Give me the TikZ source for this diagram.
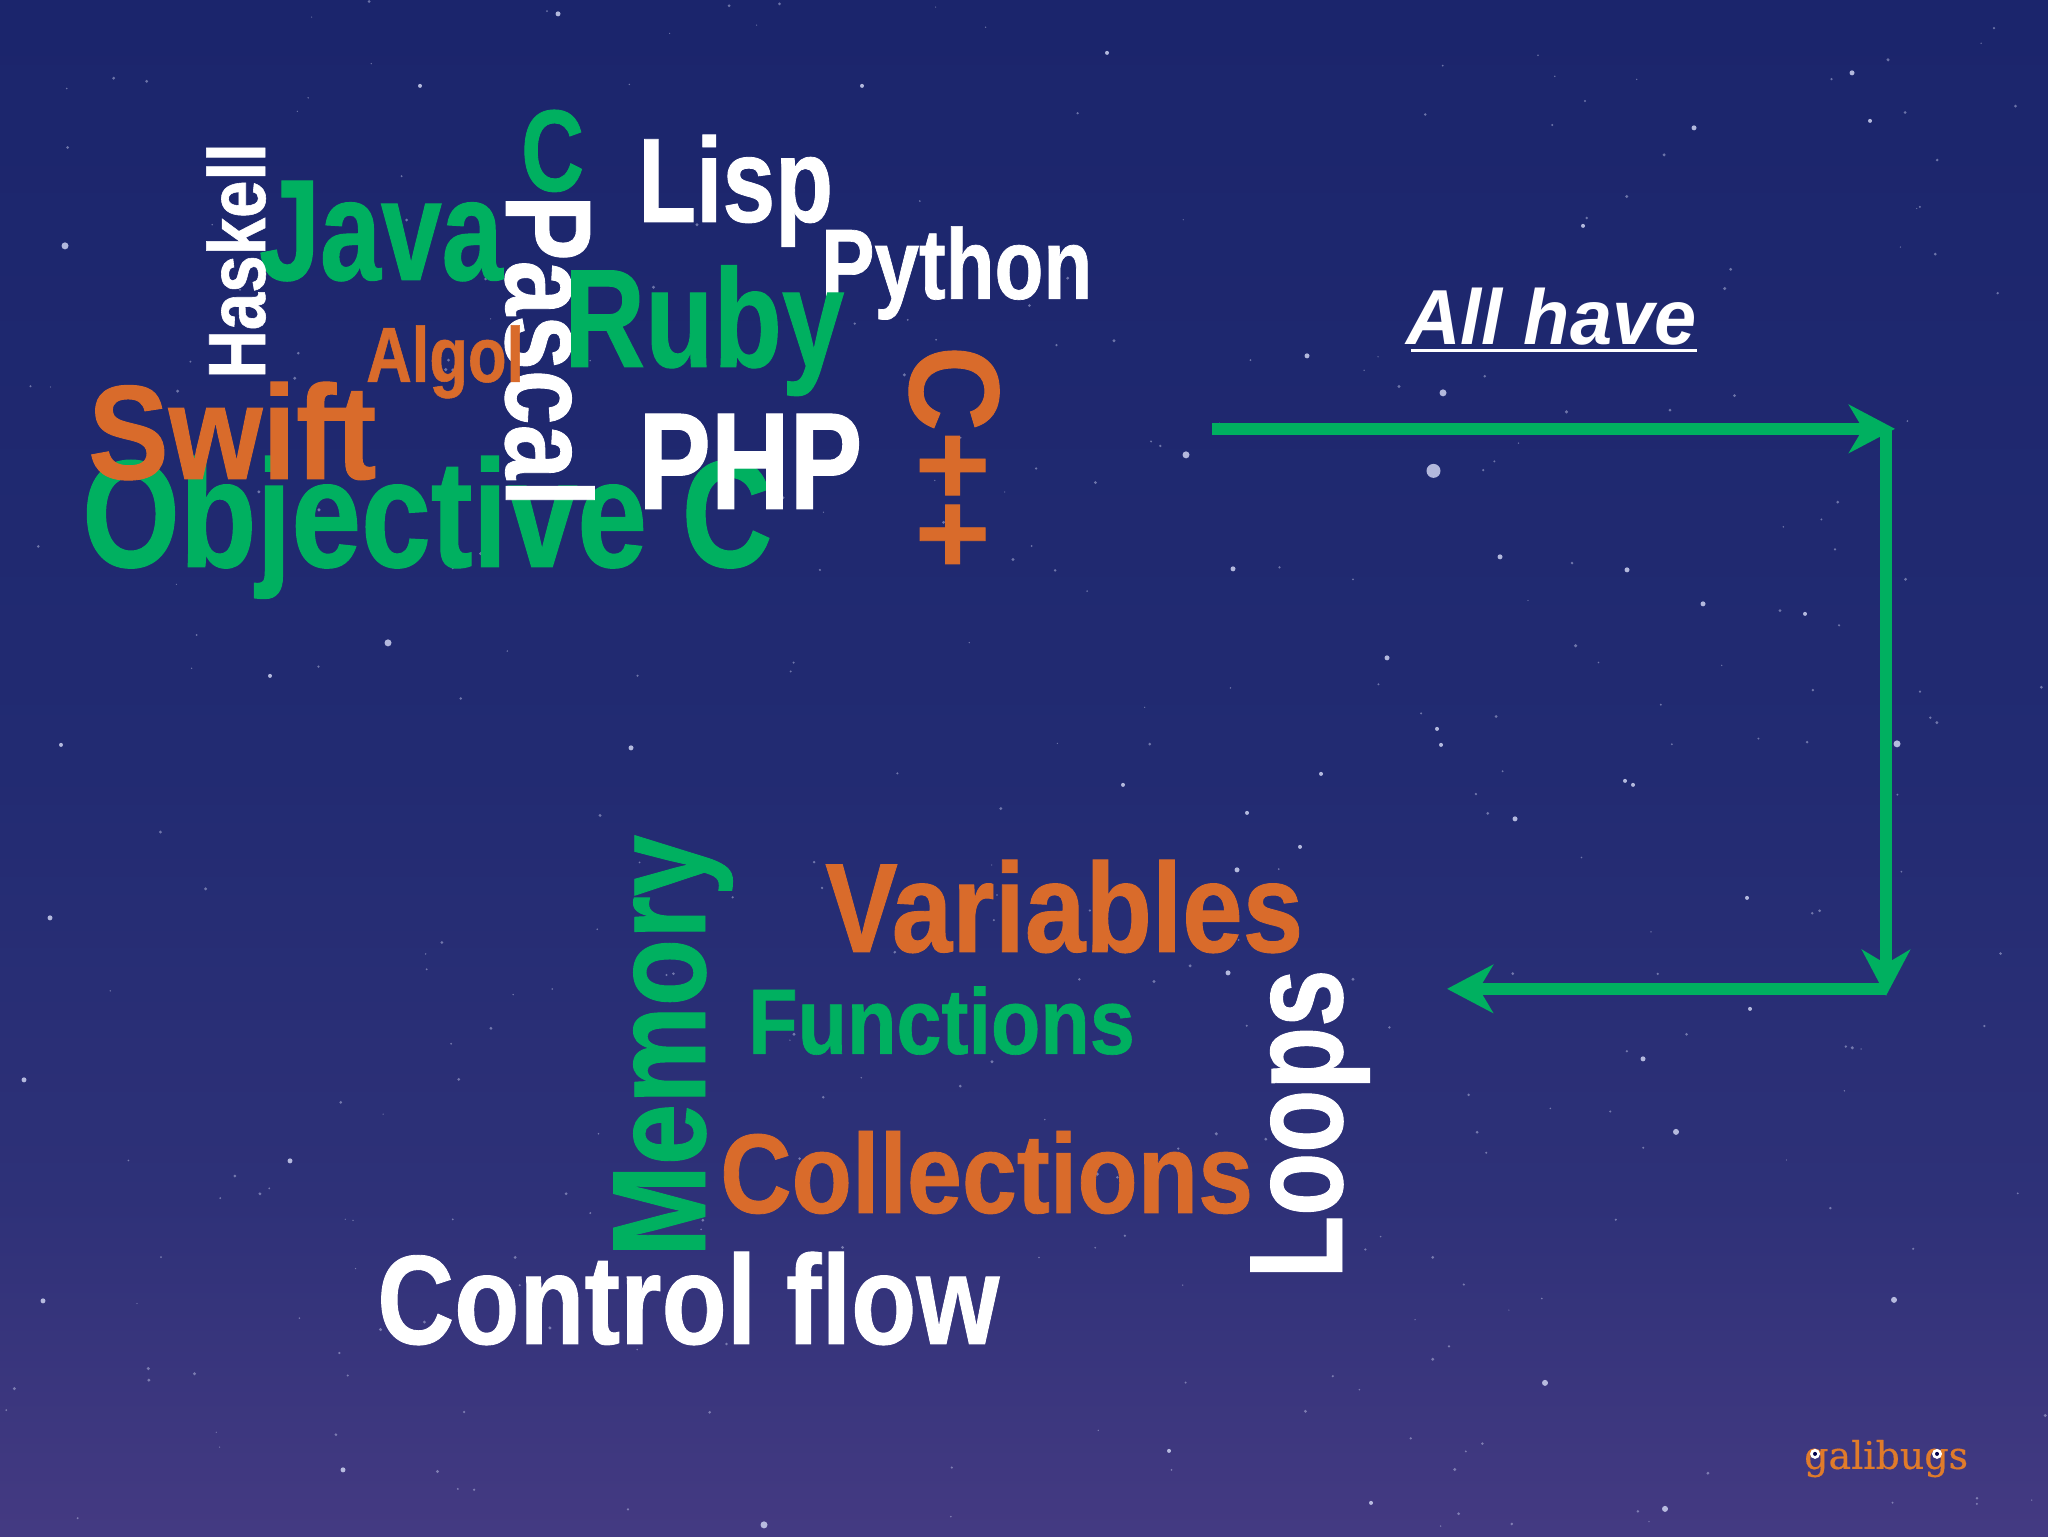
\documentclass[tikz,border=0pt]{standalone}
\usepackage{fontspec}
\usepackage{tikz}
\usetikzlibrary{arrows.meta}

\definecolor{wordgreen}{RGB}{0,176,96}
\definecolor{wordorange}{RGB}{217,107,43}
\definecolor{skytop}{RGB}{27,37,108}
\definecolor{skymid}{RGB}{34,43,114}
\definecolor{skylow}{RGB}{46,49,120}
\definecolor{skybottom}{RGB}{68,58,130}
\definecolor{stardot}{RGB}{205,210,240}
\definecolor{logoorange}{RGB}{224,123,42}

\pgfdeclareverticalshading{skyfade}{100bp}{color(0bp)=(skybottom); color(25bp)=(skybottom); color(36bp)=(skylow); color(50bp)=(skymid); color(75bp)=(skytop); color(100bp)=(skytop)}

\tikzset{
	word/.style 2 args={inner sep=0pt, anchor=base west, font={\fontspec[FakeStretch=#2,BoldFeatures={FakeBold=0.7}]{Liberation Sans}\bfseries\fontsize{#1}{#1}\selectfont}},
	greenword/.style={text=wordgreen},
	orangeword/.style={text=wordorange},
	whiteword/.style={text=white},
	bentarrow/.style={draw=wordgreen, line width=12pt, -{Stealth[length=46pt,width=48pt,inset=14pt]}},
	star/.style={fill=stardot, opacity=0.85},
}

\begin{document}
\begin{tikzpicture}[x=1pt,y=-1pt]
	\pgfmathsetseed{4711}
	\shade[shading=skyfade] (0,0) rectangle (2048,1536);

	% faint dots
	\foreach \i in {1,...,320} {
		\pgfmathsetmacro{\sx}{rnd*2048}
		\pgfmathsetmacro{\sy}{rnd*1536}
		\pgfmathsetmacro{\sr}{0.6+rnd*1.1}
		\fill[star, opacity=0.45] (\sx,\sy) circle (\sr);
	}
	% brighter dots
	\foreach \sx/\sy/\sr in {1433.5/470/7, 1443/392/3.5, 1186/454/3.5, 1307/355/2.5, 1500/556/2.5, 1897/743/3.5, 1515/818/2.5, 1387/657/2.5, 1703/603/2.5, 1233/568/2.5, 1627/569/2.5, 1805/613/2, 1437/728/2, 1441/744/2, 1625/780/2, 1247/812/2, 1321/773/2, 1237/869/2.5, 1228/972/2.5, 1747/897/2, 1750/1008/2, 1300/846/2, 65/245/3.5, 388/642/3.5, 764/1524/3.5, 1676/1131/3, 1894/1299/3, 1545/1382/3, 1665/1508/3, 50/917/2.5, 24/1079/2.5, 43/1300/2.5, 343/1469/2.5, 290/1160/2.5, 61/744/2, 270/675/2, 558/13/2.5, 420/85/2, 1107/52/2, 862/85/2, 1694/127/2.5, 1870/120/2, 1852/72/2.5, 1583/225/2, 1643/1058/2.5, 1371/1502/2, 631/747/2.5, 1123/784/2, 1169/1450/2, 1633/784/2}
		\fill[star] (\sx,\sy) circle (\sr);

	% upper group
	\node[word={144}{0.76}, greenword] (java) at (259,279) {Java};
	\node[word={81}{0.83}, whiteword, rotate=90] (haskell) at (265,378) {Haskell};
	\node[word={116}{0.75}, greenword] (c) at (521,190) {C};
	\node[word={153}{0.82}, greenword] (objc) at (82,566) {Objective C};
	\node[word={122}{0.806}, whiteword, rotate=-90] (pascal) at (506,194) {Pascal};
	\node[word={120}{0.79}, whiteword] (lisp) at (638,221) {Lisp};
	\node[word={100}{0.8}, whiteword] (python) at (821,298) {Python};
	\node[word={140}{0.8}, greenword] (ruby) at (564,366) {Ruby};
	\node[word={78}{0.81}, orangeword] (algol) at (366,381) {Algol};
	\node[word={134}{0.9}, orangeword] (swift) at (88,478) {Swift};
	\node[word={138}{0.79}, whiteword] (php) at (638,508) {PHP};
	\node[word={128}{0.92}, orangeword, rotate=-90] (cpp) at (910,345) {C++};

	% lower group
	\node[word={133}{0.827}, greenword, rotate=90] (memory) at (705,1256) {Memory};
	\node[word={127}{0.857}, orangeword] (variables) at (825,951) {Variables};
	\node[word={93}{0.87}, greenword] (functions) at (748,1053) {Functions};
	\node[word={113}{0.875}, orangeword] (collections) at (720,1212) {Collections};
	\node[word={133}{0.775}, whiteword, rotate=90] (loops) at (1342,1278) {Loops};
	\node[word={127}{0.84}, whiteword] (controlflow) at (377,1343) {Control flow};

	% label and arrows
	\node[inner sep=0pt, anchor=base west, whiteword, font={\fontspec[FakeStretch=0.97]{Liberation Sans}\bfseries\itshape\fontsize{78}{78}\selectfont}] (allhave) at (1406,344) {All have};
	\draw[white, line width=3pt] (1411,350) -- (1697,350);

	\coordinate (start) at (1212,428);
	\coordinate (cornertip) at (1895,428);
	\coordinate (cornertop) at (1886,428);
	\coordinate (lowtip) at (1886,995);
	\coordinate (lowright) at (1886,988);
	\coordinate (end) at (1447,988);
	\draw[bentarrow] (cornertop) -- (lowtip);
	\draw[bentarrow] (start) -- (cornertip);
	\draw[bentarrow] (lowright) -- (end);

	% logo
	\node[inner sep=0pt, anchor=base west, text=logoorange, font={\fontspec[FakeBold=0.4]{DejaVu Serif}\fontsize{38}{38}\selectfont}] (logo) at (1804,1468) {galibugs};
	\fill[white] (1815,1453) circle (5);
	\fill[white] (1937,1453) circle (5);
	\fill[black!70!blue] (1815,1453) circle (2);
	\fill[black!70!blue] (1937,1453) circle (2);
\end{tikzpicture}
\end{document}
